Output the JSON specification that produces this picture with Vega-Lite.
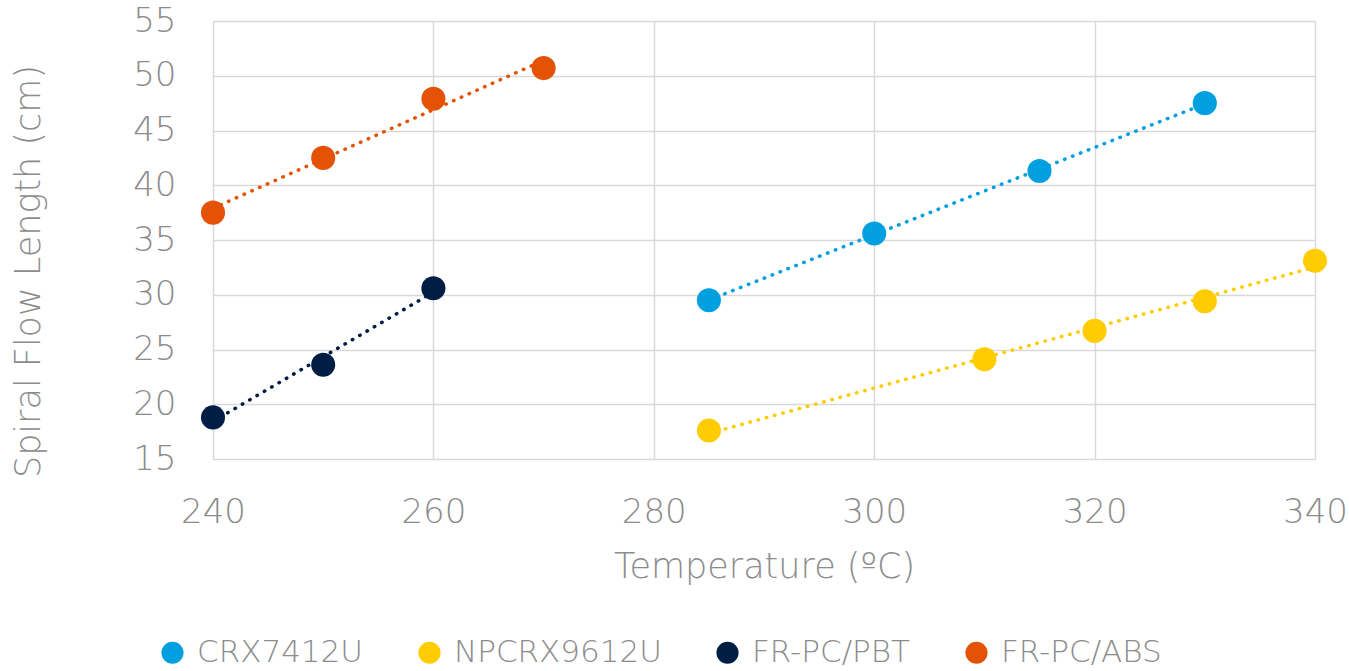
{
  "$schema": "https://vega.github.io/schema/vega-lite/v6.json",
  "width": 1102,
  "height": 438,
  "autosize": "none",
  "padding": {"left": 213, "top": 21, "right": 34, "bottom": 212},
  "background": "white",
  "config": {
    "view": {"stroke": null},
    "font": "DejaVu Sans",
    "axis": {
      "domain": false,
      "ticks": false,
      "gridColor": "#d9d9d9",
      "gridWidth": 1.5,
      "labelColor": "#8c8c8c",
      "titleColor": "#8c8c8c",
      "labelFontSize": 34,
      "titleFontSize": 35,
      "labelFont": "DejaVu Sans",
      "titleFont": "DejaVu Sans",
      "labelFontWeight": 300,
      "titleFontWeight": 300
    }
  },
  "data": {
    "values": [
      {"series": "CRX7412U", "temp": 285, "flow": 29.5},
      {"series": "CRX7412U", "temp": 300, "flow": 35.6},
      {"series": "CRX7412U", "temp": 315, "flow": 41.3},
      {"series": "CRX7412U", "temp": 330, "flow": 47.5},
      {"series": "NPCRX9612U", "temp": 285, "flow": 17.6},
      {"series": "NPCRX9612U", "temp": 310, "flow": 24.1},
      {"series": "NPCRX9612U", "temp": 320, "flow": 26.7},
      {"series": "NPCRX9612U", "temp": 330, "flow": 29.4},
      {"series": "NPCRX9612U", "temp": 340, "flow": 33.1},
      {"series": "FR-PC/PBT", "temp": 240, "flow": 18.8},
      {"series": "FR-PC/PBT", "temp": 250, "flow": 23.6},
      {"series": "FR-PC/PBT", "temp": 260, "flow": 30.6},
      {"series": "FR-PC/ABS", "temp": 240, "flow": 37.5},
      {"series": "FR-PC/ABS", "temp": 250, "flow": 42.5},
      {"series": "FR-PC/ABS", "temp": 260, "flow": 47.9},
      {"series": "FR-PC/ABS", "temp": 270, "flow": 50.7}
    ]
  },
  "encoding": {
    "x": {
      "field": "temp", "type": "quantitative",
      "scale": {"domain": [240, 340], "nice": false, "zero": false},
      "axis": {"values": [240, 260, 280, 300, 320, 340], "labelFlush": false, "labelBaseline": "alphabetic", "labelPadding": 63, "title": "Temperature (ºC)", "titleY": 107, "titleBaseline": "middle"}
    },
    "y": {
      "field": "flow", "type": "quantitative",
      "scale": {"domain": [15, 55], "nice": false, "zero": false},
      "axis": {"values": [15, 20, 25, 30, 35, 40, 45, 50, 55], "labelPadding": 37, "title": "Spiral Flow Length (cm)", "titleX": -185, "titleY": 250, "titleBaseline": "middle", "titleAngle": -90, "titleAlign": "center"}
    },
    "color": {
      "field": "series", "type": "nominal",
      "scale": {
        "domain": ["CRX7412U", "NPCRX9612U", "FR-PC/PBT", "FR-PC/ABS"],
        "range": ["#00A0E0", "#FFCC00", "#001E45", "#E35205"]
      },
      "legend": {
        "title": null,
        "orient": "none",
        "direction": "horizontal",
        "legendX": -56,
        "legendY": 616,
        "symbolType": "circle",
        "symbolSize": 490,
        "symbolStrokeWidth": 0,
        "labelFontSize": 31,
        "labelColor": "#8c8c8c",
        "labelFont": "DejaVu Sans",
        "labelFontWeight": 300,
        "labelOffset": 9,
        "labelLimit": 400,
        "columnPadding": 50,
        "symbolOpacity": 1
      }
    }
  },
  "layer": [
    {
      "transform": [{"regression": "flow", "on": "temp", "groupby": ["series"], "method": "linear"}],
      "mark": {"type": "line", "strokeDash": [0.5, 8], "strokeCap": "round", "strokeWidth": 3.5}
    },
    {
      "mark": {"type": "circle", "size": 580, "opacity": 1}
    }
  ]
}
